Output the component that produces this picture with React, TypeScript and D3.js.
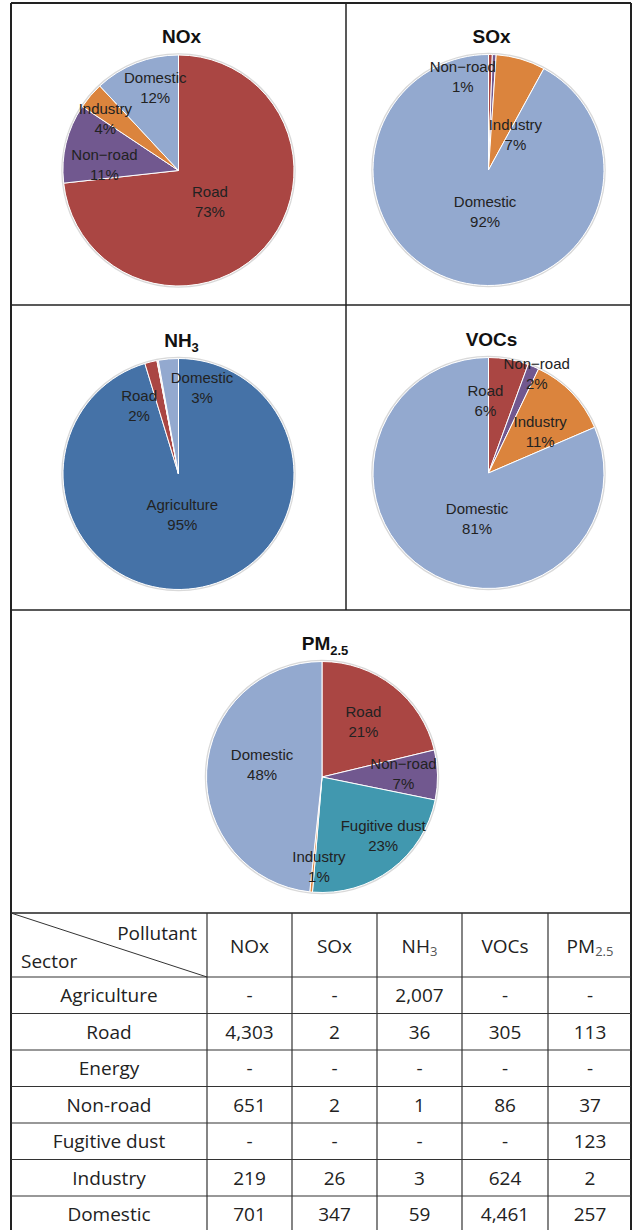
import React, { useEffect, useRef } from 'react';
import * as d3 from 'd3';

// Emissions by sector (table order is also the pie order, clockwise from 12 o'clock)
const sectors = ['Agriculture', 'Road', 'Energy', 'Non-road', 'Fugitive dust', 'Industry', 'Domestic'];
const pollutants = ['NOx', 'SOx', 'NH3', 'VOCs', 'PM2.5'];
const noxValues = [0, 4303, 0, 651, 0, 219, 701];
const soxValues = [0, 2, 0, 2, 0, 26, 347];
const nh3Values = [2007, 36, 0, 1, 0, 3, 59];
const vocValues = [0, 305, 0, 86, 0, 624, 4461];
const pm25Values = [0, 113, 0, 37, 123, 2, 257];

const sectorColors: Record<string, string> = {
  Agriculture: '#4572A7',
  Road: '#AA4643',
  Energy: '#89A54E',
  'Non-road': '#71588F',
  'Fugitive dust': '#4198AF',
  Industry: '#DB843D',
  Domestic: '#93A9CF',
};

// labels Excel dropped for overlapping slivers
const hiddenLabels = ['SOx:Road', 'NH3:Non-road', 'NH3:Industry'];

// small nudges to get the labels where the original "best fit" put them
const labelNudge: Record<string, [number, number]> = {
  'NOx:Road': [-3, 1],
  'NOx:Non-road': [9, 15],
  'NOx:Industry': [-8, 4],
  'NOx:Domestic': [8, -3],
  'SOx:Non-road': [-30, -8],
  'SOx:Industry': [3, 47],
  'SOx:Domestic': [8, -3],
  'NH3:Agriculture': [-3, -5],
  'NH3:Road': [-19, 15],
  'NH3:Domestic': [31, -1],
  'VOCs:Road': [-18, 12],
  'VOCs:Non-road': [15, -20],
  'VOCs:Industry': [-10, 18],
  'VOCs:Domestic': [14, 7],
  'PM2.5:Road': [0, -2],
  'PM2.5:Non-road': [-4, -2],
  'PM2.5:Fugitive dust': [21, 5],
  'PM2.5:Industry': [5, 5],
  'PM2.5:Domestic': [7, -8],
};

const W = 635;
const H = 1230;
const frame = { left: 11, right: 631, top: 3, midX: 346, row1: 305, row2: 610, tableTop: 913 };
const tableCols = [11, 207, 292, 377, 462, 548, 632];
const headerBottom = 977;
const rowH = 36.5;

const labelFont = 'Arial, "Liberation Sans", sans-serif';
const tableFont = '"Open Sans", "Noto Sans", sans-serif';

const App = () => {
  const ref = useRef<SVGSVGElement>(null);

  useEffect(() => {
    const svg = d3.select(ref.current);
    svg.selectAll('*').remove();

    const seriesList = [noxValues, soxValues, nh3Values, vocValues, pm25Values];
    const radius = 115.5;
    const pieSpots = [
      { cx: (frame.left + frame.midX) / 2, cy: frame.top + 167.5 },
      { cx: (frame.midX + frame.right) / 2, cy: frame.top + 167 },
      { cx: (frame.left + frame.midX) / 2, cy: frame.row1 + 169 },
      { cx: (frame.midX + frame.right) / 2, cy: frame.row1 + 168 },
      { cx: (frame.left + frame.right) / 2 + 1, cy: frame.row2 + 167 },
    ];

    const pie = d3.pie<{ sector: string; value: number }>().sort(null).value(d => d.value);
    const arc = d3.arc<d3.PieArcDatum<{ sector: string; value: number }>>().innerRadius(0).outerRadius(radius);

    pollutants.forEach((pol, i) => {
      const vals = seriesList[i];
      const data = sectors.map((s, j) => ({ sector: s, value: vals[j] })).filter(d => d.value > 0);
      const total = d3.sum(data, d => d.value);
      const { cx, cy } = pieSpots[i];
      const g = svg.append('g').attr('transform', `translate(${cx},${cy})`);

      // faint outline round the pie
      g.append('circle').attr('r', radius + 1).attr('fill', 'none').attr('stroke', '#d9d9d9').attr('stroke-width', 1.5);

      const arcs = pie(data);
      g.selectAll('path.slice')
        .data(arcs)
        .enter()
        .append('path')
        .attr('class', 'slice')
        .attr('d', arc)
        .attr('fill', d => sectorColors[d.data.sector])
        .attr('stroke', '#fff')
        .attr('stroke-width', 1);

      // title with subscripts
      const title = g.append('text')
        .attr('x', 3)
        .attr('y', -radius - 12)
        .attr('text-anchor', 'middle')
        .attr('font-family', labelFont)
        .attr('font-weight', 'bold')
        .attr('font-size', 19)
        .attr('fill', '#111');
      const m = pol.match(/^([A-Z]+)([\d.]+)$/);
      if (m) {
        title.append('tspan').text(m[1]);
        title.append('tspan').attr('font-size', 13).attr('dy', 5).text(m[2]);
      } else {
        title.text(pol);
      }

      arcs.forEach(a => {
        const key = `${pol}:${a.data.sector}`;
        if (hiddenLabels.includes(key)) return;
        const p = a.data.value / total;
        const k = p >= 0.6 ? 0.4 : p >= 0.15 ? 0.58 : 0.74;
        const mid = (a.startAngle + a.endAngle) / 2;
        const [nx, ny] = labelNudge[key] || [0, 0];
        const lx = Math.sin(mid) * radius * k + nx;
        const ly = -Math.cos(mid) * radius * k + ny;
        const pct = Math.max(1, Math.round(p * 100));
        const t = g.append('text')
          .attr('text-anchor', 'middle')
          .attr('font-family', labelFont)
          .attr('font-size', 15)
          .attr('fill', '#222');
        t.append('tspan').attr('x', lx).attr('y', ly - 5).text(a.data.sector.replace('-', '\u2212'));
        t.append('tspan').attr('x', lx).attr('y', ly + 15).text(`${pct}%`);
      });
    });

    // frame lines
    const line = (x1: number, y1: number, x2: number, y2: number, w = 1.5, c = '#222') =>
      svg.append('line').attr('x1', x1).attr('y1', y1).attr('x2', x2).attr('y2', y2)
        .attr('stroke', c).attr('stroke-width', w);

    line(frame.left, frame.top, frame.right, frame.top, 2);
    line(frame.left, frame.top, frame.left, H, 2);
    line(frame.right, frame.top, frame.right, H, 2);
    line(frame.midX, frame.top, frame.midX, frame.row2, 1.5);
    line(frame.left, frame.row1, frame.right, frame.row1, 1.5);
    line(frame.left, frame.row2, frame.right, frame.row2, 1.5);

    // table
    const rowY = d3.range(sectors.length + 1).map(i => headerBottom + i * rowH);
    line(frame.left, frame.tableTop, frame.right, frame.tableTop, 1.5);
    rowY.forEach(y => line(frame.left, y, frame.right, y, 1.2, '#333'));
    tableCols.slice(1, -1).forEach(x => line(x, frame.tableTop, x, H, 1.2, '#333'));
    line(tableCols[0], frame.tableTop, tableCols[1], headerBottom, 1, '#333');

    const txt = (x: number, y: number, s: string, anchor = 'middle') =>
      svg.append('text').attr('x', x).attr('y', y).attr('text-anchor', anchor)
        .attr('font-family', tableFont).attr('font-size', 19).attr('fill', '#222').text(s);

    txt(tableCols[1] - 10, 940, 'Pollutant', 'end');
    txt(tableCols[0] + 10, 968, 'Sector', 'start');

    pollutants.forEach((pol, i) => {
      const x = (tableCols[i + 1] + tableCols[i + 2]) / 2;
      const m = pol.match(/^([A-Z]+)([\d.]+)$/);
      const t = txt(x, 953, m ? '' : pol);
      if (m) {
        t.append('tspan').text(m[1]);
        t.append('tspan').attr('font-size', 13).attr('dy', 3).attr('fill', '#555').text(m[2]);
      }
    });

    sectors.forEach((s, r) => {
      const y = rowY[r] + rowH / 2 + 7;
      txt((tableCols[0] + tableCols[1]) / 2, y, s);
      seriesList.forEach((vals, c) => {
        const x = (tableCols[c + 1] + tableCols[c + 2]) / 2;
        txt(x, y, vals[r] > 0 ? d3.format(',')(vals[r]) : '-');
      });
    });
  }, []);

  return (
    <div style={{ position: 'absolute', left: 0, top: 0, width: W, height: H, background: '#fff' }}>
      <svg ref={ref} width={W} height={H} style={{ display: 'block' }} />
    </div>
  );
};

export default App;
